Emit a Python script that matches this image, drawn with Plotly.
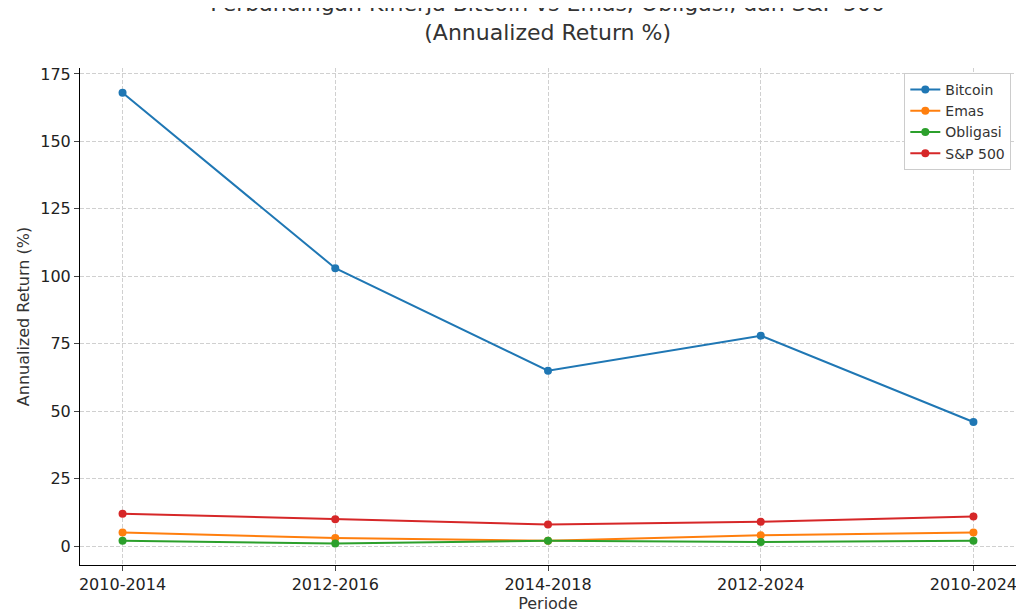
import plotly.graph_objects as go

periods = ["2010-2014", "2012-2016", "2014-2018", "2012-2024", "2010-2024"]
bitcoin = [168, 103, 65, 78, 46]
emas = [5, 3, 2, 4, 5]
obligasi = [2, 1, 2, 1.5, 2]
sp500 = [12, 10, 8, 9, 11]

series = [
    ("Bitcoin", bitcoin, "#1f77b4"),
    ("Emas", emas, "#ff7f0e"),
    ("Obligasi", obligasi, "#2ca02c"),
    ("S&P 500", sp500, "#d62728"),
]

fig = go.Figure()
for name, vals, color in series:
    fig.add_trace(go.Scatter(
        x=periods, y=vals, name=name, mode="lines+markers",
        line=dict(color=color, width=2), marker=dict(size=8, color=color),
    ))

axis_style = dict(
    showgrid=True, gridcolor="#d0d0d0", griddash="4px,2px", gridwidth=1,
    showline=True, linecolor="black", linewidth=1, ticks="outside",
    tickfont=dict(size=16, color="#222"), zeroline=False, automargin=False,
)
fig.update_xaxes(title=dict(text="Periode", font=dict(size=16), standoff=4),
                 range=[-0.2, 4.2], **axis_style)
fig.update_yaxes(title=dict(text="Annualized Return (%)", font=dict(size=16), standoff=6),
                 range=[-7, 177.2], tickvals=[0, 25, 50, 75, 100, 125, 150, 175], **axis_style)

fig.update_layout(
    title=dict(text="Perbandingan Kinerja Bitcoin vs Emas, Obligasi, dan S&P 500<br>(Annualized Return %)",
               x=0.527, xanchor="center", yref="container", y=0.995, yanchor="top",
               font=dict(size=22, color="#333")),
    font=dict(family="DejaVu Sans", color="#333"),
    width=1024, height=613, plot_bgcolor="white", paper_bgcolor="white",
    margin=dict(l=72, r=16, t=60, b=56),
    legend=dict(x=0.995, y=0.99, xanchor="right", yanchor="top", bgcolor="white",
                bordercolor="#ccc", borderwidth=1, font=dict(size=14)),
)

fig.write_html("out.html")
